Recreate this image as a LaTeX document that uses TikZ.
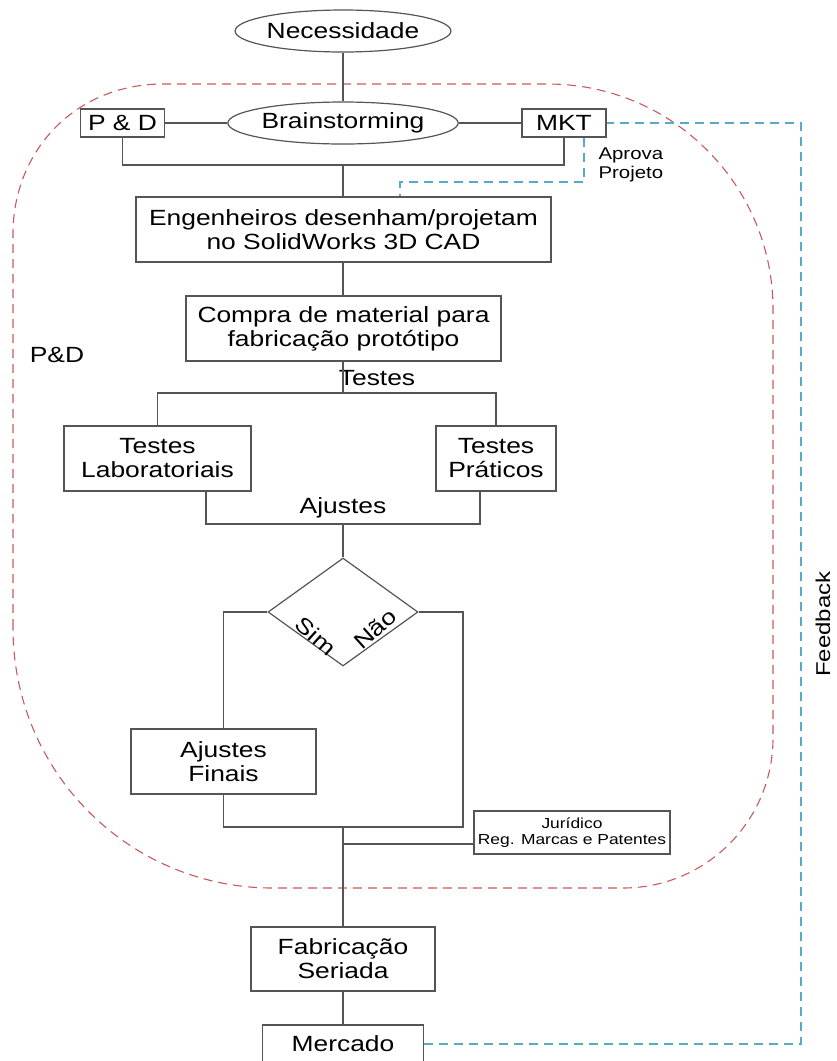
\documentclass[tikz,border=0pt]{standalone}
\usepackage{fontspec}
\setmainfont[FakeStretch=1.2]{Liberation Sans}
\usetikzlibrary{positioning,shapes.geometric}
\definecolor{linegray}{RGB}{85,85,85}
\definecolor{pdred}{RGB}{200,90,90}
\definecolor{fbblue}{RGB}{85,172,200}

\begin{document}
\begin{tikzpicture}[
    x=1pt, y=-1pt,
    box/.style={draw=linegray, line width=1.2pt, align=center, inner sep=0pt,
                font=\fontsize{22}{24}\selectfont},
    oval/.style={box, ellipse},
    lbl/.style={font=\fontsize{22}{24}\selectfont},
    small/.style={font=\fontsize{17}{19}\selectfont, align=left},
    link/.style={draw=linegray, line width=1.2pt},
    fb/.style={draw=fbblue, line width=1.2pt, dash pattern=on 9pt off 6pt},
    area/.style={draw=pdred, line width=1.1pt, dash pattern=on 9pt off 6pt},
  ]
  \clip (0,0) rectangle (837,1061);

  % P&D area
  \draw[area] (13,628) -- (13,234) .. controls (13,150) and (76,84) .. (163,84)
    -- (548,84) .. controls (672,84) and (773,185) .. (773,309)
    -- (773,738) .. controls (773,821) and (706,888) .. (623,888)
    -- (273,888) .. controls (129,888) and (13,772) .. (13,628) -- cycle;

  % boxes
  \node[oval, minimum width=205pt, minimum height=42pt] (nec) at (343,31) {Necessidade};
  \node[oval, minimum width=220pt, minimum height=42pt, fill=white] (brain) at (343,123) {Brainstorming};
  \node[box, minimum width=84pt, minimum height=28pt] (pd) at (122.5,123) {P \& D};
  \node[box, minimum width=84pt, minimum height=28pt] (mkt) at (564,123) {MKT};
  \node[box, minimum width=415pt, minimum height=65pt] (eng) at (343.5,229.5)
    {Engenheiros desenham/projetam\\no SolidWorks 3D CAD};
  \node[box, minimum width=315pt, minimum height=65pt] (compra) at (343.5,328.5)
    {Compra de material para\\fabricação protótipo};
  \node[box, minimum width=187pt, minimum height=65pt] (lab) at (157.5,458.5) {Testes\\Laboratoriais};
  \node[box, minimum width=120pt, minimum height=65pt] (prat) at (496,458.5) {Testes\\Práticos};
  \node[draw=linegray, line width=1.2pt, diamond, aspect=1.39, minimum width=150pt,
        minimum height=108pt, inner sep=0pt] (decisao) at (343,612) {};
  \node[box, minimum width=185pt, minimum height=65pt] (ajfin) at (223.5,761.5) {Ajustes\\Finais};
  \node[box, minimum width=196pt, minimum height=43pt, font=\fontsize{14.5}{16}\selectfont]
    (jur) at (572,832.5) {Jurídico\\Reg. Marcas e Patentes};
  \node[box, minimum width=184pt, minimum height=64pt] (fab) at (343,959) {Fabricação\\Seriada};
  \node[box, minimum width=161pt, minimum height=38pt] (merc) at (343,1044) {Mercado};

  % labels
  \node[lbl, rotate=-42, inner sep=0pt] (sim) at (316,636) {Sim};
  \node[lbl, rotate=42, inner sep=0pt] (nao) at (375,629) {Não};
  \node[lbl] (testes) at (377,378) {Testes};
  \node[lbl] (ajustes) at (343,508) {Ajustes};
  \node[small, anchor=west] (aprova) at (595,165) {Aprova\\Projeto};
  \node[font=\fontsize{20}{22}\selectfont, rotate=90] (feedback) at (823,624) {Feedback};
  \node[lbl] (pdlabel) at (57,355) {P\&D};

  % connectors
  \coordinate (jtop) at (343,165);
  \coordinate (jtst) at (343,393);
  \coordinate (ajl) at (206,524);
  \coordinate (ajr) at (480,524);
  \coordinate (jaj) at (343,524);
  \coordinate (jfin) at (343,827);
  \coordinate (naoc) at (463,827);
  \coordinate (jjur) at (343,844);
  \draw[link] (nec) -- (brain);
  \draw[link] (pd) -- (brain);
  \draw[link] (brain) -- (mkt);
  \draw[link] (pd.south) |- (jtop) -| (mkt.south);
  \draw[link] (jtop) -- (jtop |- eng.north);
  \draw[link] (eng.south -| jtop) -- (compra.north -| jtop);
  \draw[link] (compra.south -| jtst) -- (jtst);
  \draw[link] (lab.north) |- (jtst) -| (prat.north);
  \draw[link] (ajl |- lab.south) -- (ajl) -- (ajr) -- (ajr |- prat.south);
  \draw[link] (jaj) -- (decisao.north);
  \draw[link] (decisao.west) -| (ajfin.north);
  \draw[link] (ajfin.south) |- (naoc) |- (decisao.east);
  \draw[link] (jfin) -- (fab);
  \draw[link] (jjur) -- (jjur -| jur.west);
  \draw[link] (fab) -- (merc);

  % feedback
  \coordinate (fbtop) at (801,123);
  \coordinate (fbbot) at (801,1044);
  \coordinate (apr1) at (584,182);
  \coordinate (apr2) at (400,182);
  \draw[fb] (merc.east) -- (fbbot) -- (fbtop) -- (mkt.east);
  \draw[fb] (apr1 |- mkt.south) -- (apr1) -- (apr2) -- (apr2 |- eng.north);
\end{tikzpicture}
\end{document}
